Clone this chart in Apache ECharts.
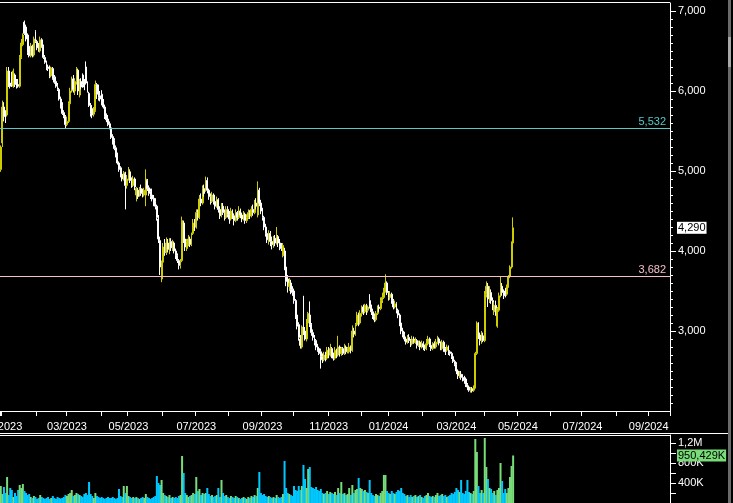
<!DOCTYPE html>
<html>
<head>
<meta charset="utf-8">
<script src="https://cdn.jsdelivr.net/npm/echarts@6/dist/echarts.min.js"></script>
<style>
html,body{margin:0;padding:0;background:#000;}
#chart{width:733px;height:503px;}
</style>
</head>
<body>
<div id="chart"></div>
<script>
// Month labels and number of trading-day slots in each month on the axis
const monthLabels = ['12/2022','01/2023','02/2023','03/2023','04/2023','05/2023','06/2023','07/2023','08/2023','09/2023','10/2023','11/2023','12/2023','01/2024','02/2024','03/2024','04/2024','05/2024','06/2024','07/2024','08/2024','09/2024'];
const monthDays = [1,22,19,22,17,22,21,21,21,20,22,21,17,22,21,18,21,21,20,22,20,14];

// Daily candles: [open, close, low, high]
const ohlc = [
[5020,5300,4990,5320],[5350,5800,5300,5880],[5800,5680,5620,5860],[5700,5650,5600,5760],[5700,6250,5680,6300],
[6250,6100,6050,6300],[6100,6060,6030,6200],[6200,6080,6050,6240],[6060,6250,6040,6280],[6200,6080,6050,6220],
[6120,6060,6030,6150],[6080,6060,6040,6150],[6060,6420,6040,6450],[6420,6600,6400,6650],[6580,6700,6560,6720],
[6860,6720,6700,6880],[6800,6650,6620,6830],[6700,6480,6450,6720],[6560,6440,6420,6600],[6440,6560,6420,6600],
[6560,6450,6420,6580],[6450,6650,6430,6680],[6740,6620,6600,6760],[6620,6540,6510,6640],[6560,6520,6490,6600],
[6500,6640,6480,6680],[6640,6560,6540,6660],[6560,6420,6400,6580],[6420,6360,6340,6450],[6360,6290,6260,6380],
[6300,6280,6250,6330],[6300,6180,6160,6320],[6190,6290,6170,6300],[6280,6160,6140,6300],[6170,6110,6090,6200],
[6120,6060,6040,6180],[6070,6020,6000,6100],[6020,5900,5880,6040],[5900,5800,5780,5930],[5820,5720,5700,5860],
[5730,5680,5660,5760],[5680,5580,5530,5700],[5580,5620,5560,5680],[5620,5840,5600,5870],[5840,6000,5800,6040],
[6000,6150,5980,6180],[6150,6020,5980,6200],[6000,6120,5950,6160],[6120,6280,6080,6300],[6260,6000,5950,6280],
[5950,6120,5920,6150],[6120,6050,6020,6160],[6200,6080,6040,6220],[6100,6050,6010,6150],[6300,6100,6080,6370],
[6100,6000,5980,6120],[5970,5820,5800,5990],[5820,5720,5680,5850],[5780,5700,5660,5820],[5710,5760,5680,5800],
[5760,6080,5740,6130],[6080,5960,5900,6100],[6050,5920,5880,6080],[5940,5900,5870,6000],[5960,5850,5820,6010],
[5860,5800,5780,5900],[5800,5680,5650,5830],[5700,5640,5610,5720],[5650,5580,5560,5700],[5590,5540,5520,5620],
[5540,5420,5400,5560],[5430,5350,5330,5460],[5380,5280,5260,5410],[5290,5200,5170,5320],[5200,5100,5080,5230],
[5100,5020,4990,5120],[5040,4950,4920,5060],[4960,4900,4870,4990],[4900,4980,4880,5000],[4960,4820,4520,4990],
[4820,4900,4780,4950],[4900,5000,4880,5050],[4990,4880,4850,5020],[4880,4820,4790,4920],[4820,4900,4800,4940],
[4900,4800,4760,4920],[4700,4780,4620,4800],[4760,4680,4650,4790],[4700,4760,4680,4800],[4780,4720,4690,4830],
[4730,4700,4670,4780],[4700,4760,4680,4790],[4700,4900,4560,5020],[4880,4780,4750,4900],[4790,4720,4690,4820],
[4740,4680,4650,4780],[4700,4650,4620,4780],[4660,4600,4560,4700],[4620,4560,4520,4660],[4560,4420,4380,4580],
[4400,4150,4100,4450],[4130,3800,3700,4180],[3650,3860,3610,3880],[3860,4050,3840,4100],[4050,3980,3940,4150],
[3980,4100,3950,4170],[4100,4020,3980,4150],[4000,4120,3960,4160],[4120,4040,4000,4160],[4040,4100,4000,4140],
[4100,4000,3970,4120],[4000,3940,3900,4030],[3940,3880,3850,3970],[3880,3820,3770,3900],[3820,3870,3780,3900],
[3880,4380,3860,4430],[4350,4150,4100,4380],[4150,4050,4000,4180],[4030,4120,4000,4150],[4100,4150,4060,4200],
[4150,4080,4050,4180],[4080,4200,4060,4230],[4220,4350,4200,4400],[4350,4300,4250,4400],[4300,4480,4280,4520],
[4480,4420,4380,4520],[4420,4650,4400,4700],[4650,4600,4560,4720],[4600,4780,4580,4820],[4780,4720,4680,4830],
[4760,4880,4740,4930],[4880,4760,4720,4920],[4760,4680,4640,4780],[4680,4620,4580,4720],[4620,4700,4600,4740],
[4700,4620,4580,4720],[4620,4560,4520,4660],[4560,4640,4540,4680],[4640,4520,4480,4660],[4520,4440,4400,4560],
[4440,4560,4420,4600],[4560,4480,4450,4600],[4480,4420,4380,4520],[4420,4520,4400,4560],[4520,4460,4420,4560],
[4460,4400,4340,4500],[4400,4500,4380,4540],[4500,4440,4400,4520],[4440,4380,4320,4470],[4380,4480,4360,4520],
[4480,4420,4380,4500],[4420,4500,4400,4560],[4500,4450,4410,4530],[4450,4400,4360,4480],[4400,4460,4380,4500],
[4460,4380,4340,4480],[4380,4420,4350,4460],[4420,4480,4400,4520],[4480,4440,4400,4510],[4440,4520,4420,4560],
[4520,4480,4440,4580],[4480,4600,4460,4640],[4600,4560,4520,4660],[4450,4760,4420,4870],[4760,4600,4560,4790],
[4600,4500,4460,4640],[4500,4420,4380,4540],[4420,4300,4260,4440],[4300,4220,4180,4340],[4220,4140,4100,4260],
[4140,4220,4080,4260],[4220,4120,4060,4250],[4120,4080,4020,4180],[4080,4160,4040,4190],[4160,4100,4060,4200],
[4100,4180,4080,4300],[4180,4100,4050,4200],[4100,4060,4010,4150],[4060,4030,4000,4100],[3940,4070,3920,4100],
[4000,3800,3760,4040],[3800,3620,3560,3830],[3650,3560,3480,3700],[3560,3600,3500,3660],[3600,3520,3460,3640],
[3520,3480,3440,3560],[3500,3380,3340,3530],[3380,3200,3150,3400],[3200,3060,3020,3220],[3080,2920,2880,3110],
[2900,2820,2780,2950],[2800,3050,2780,3070],[3300,3000,2950,3440],[3000,2900,2880,3050],[2900,3100,2870,3150],
[3100,3220,3050,3240],[3200,3080,3050,3370],[3080,2980,2940,3100],[2980,2920,2880,3020],[2920,2860,2820,2950],
[2880,2800,2760,2900],[2800,2760,2740,2840],[2780,2720,2700,2800],[2740,2680,2530,2780],[2680,2640,2600,2720],
[2640,2700,2620,2740],[2700,2660,2620,2740],[2660,2760,2640,2800],[2760,2700,2660,2800],[2700,2780,2680,2840],
[2780,2700,2660,2800],[2700,2660,2630,2730],[2660,2760,2640,2800],[2760,2700,2660,2780],[2700,2800,2680,2940],
[2800,2720,2680,2820],[2720,2780,2690,2800],[2780,2720,2700,2800],[2720,2800,2700,2840],[2800,2740,2710,2820],
[2740,2780,2720,2800],[2740,2800,2720,2850],[2800,2760,2720,2820],[2760,3000,2740,3070],[3000,2960,2920,3040],
[2960,3080,2940,3100],[3080,3200,3060,3240],[3200,3100,3060,3230],[3100,3220,3080,3260],[3220,3300,3180,3320],
[3300,3240,3200,3330],[3240,3320,3220,3340],[3320,3260,3200,3340],[3260,3300,3230,3320],[3380,3300,3280,3460],
[3300,3240,3200,3330],[3240,3180,3150,3280],[3180,3140,3110,3220],[3140,3220,3120,3250],[3220,3300,3200,3320],
[3300,3280,3240,3330],[3280,3380,3260,3420],[3380,3420,3350,3480],[3420,3500,3400,3540],[3500,3600,3480,3710],
[3600,3480,3450,3620],[3480,3420,3380,3500],[3420,3460,3390,3500],[3460,3380,3340,3480],[3380,3300,3270,3400],
[3300,3340,3280,3380],[3340,3260,3220,3360],[3260,3200,3160,3280],[3200,3100,3060,3220],[3100,3000,2960,3120],
[3000,2960,2920,3040],[2960,2900,2870,2990],[2900,2860,2830,2930],[2860,2920,2840,2950],[2920,2880,2850,2960],
[2880,2840,2800,2900],[2840,2900,2820,2940],[2900,2860,2840,2930],[2860,2880,2840,2920],[2880,2820,2780,2900],
[2820,2860,2800,2880],[2860,2800,2760,2880],[2800,2840,2780,2880],[2840,2800,2760,2870],[2800,2780,2750,2830],
[2780,2840,2760,2900],[2840,2900,2820,2940],[2900,2820,2800,2920],[2820,2780,2750,2850],[2780,2840,2760,2860],
[2840,2800,2780,2870],[2800,2860,2780,2900],[2860,2900,2840,2940],[2900,2850,2820,2920],[2850,2800,2760,2870],
[2780,2860,2760,2890],[2860,2780,2740,2880],[2780,2740,2700,2800],[2760,2800,2740,2830],[2800,2740,2700,2820],
[2740,2720,2690,2760],[2720,2680,2650,2740],[2680,2620,2600,2700],[2620,2580,2560,2640],[2580,2500,2460,2610],
[2500,2440,2400,2520],[2440,2460,2410,2500],[2460,2420,2390,2500],[2420,2400,2370,2460],[2400,2380,2340,2440],
[2400,2330,2300,2420],[2330,2300,2260,2350],[2300,2260,2240,2320],[2260,2280,2230,2300],[2280,2250,2230,2300],
[2260,2300,2240,2320],[2300,2720,2280,2740],[2720,3100,2700,3120],[3100,2950,2900,3110],[2950,2880,2820,2980],
[2880,2960,2840,3000],[2940,2880,2860,2980],[2880,3460,2860,3500],[3460,3560,3420,3620],[3560,3400,3300,3600],
[3400,3460,3350,3560],[3480,3380,3340,3520],[3380,3300,3260,3420],[3240,3320,3200,3360],[3320,3260,3190,3380],
[3060,3280,3040,3300],[3260,3440,3240,3480],[3440,3540,3420,3680],[3560,3480,3440,3600],[3480,3440,3400,3520],
[3500,3460,3420,3540],[3460,3560,3440,3580],[3560,3680,3540,3700],[3680,3800,3660,3820],[3800,4100,3780,4120],
[4100,4290,4060,4420]
];

// Daily volume in K
const volumeK = [
340,180,320,200,520,160,300,260,120,200,
140,260,360,300,380,240,200,160,180,120,
100,140,120,80,100,160,120,100,80,100,
120,80,100,140,100,80,120,100,90,100,
120,160,140,180,200,260,140,160,200,180,
160,140,120,180,200,160,420,180,140,100,
200,140,120,100,120,100,80,100,120,100,
100,120,100,80,100,280,140,120,340,200,
340,140,120,100,120,100,120,100,80,100,
120,100,180,120,100,80,100,120,140,540,
400,360,460,200,160,140,120,160,100,120,
100,120,100,140,160,940,600,200,160,120,
140,160,200,180,520,240,280,160,200,180,
200,300,180,140,160,120,140,160,300,120,
460,200,140,160,120,100,140,120,100,140,
120,100,80,100,120,100,80,120,100,140,
120,160,140,300,620,200,160,180,140,120,
140,120,100,120,100,160,120,100,120,180,
840,300,200,180,160,140,340,260,240,340,
260,340,760,480,300,680,720,320,300,280,
320,260,240,280,200,180,200,240,180,220,
200,180,220,160,300,200,420,180,200,160,
180,300,160,360,200,260,280,500,300,280,
240,260,220,200,460,200,160,140,180,160,
140,200,240,560,560,240,200,180,240,200,
180,220,260,240,300,200,180,140,160,120,
160,120,140,160,120,140,160,120,100,140,
160,200,140,120,140,120,160,200,140,160,
180,140,160,120,140,160,200,180,220,300,
260,220,460,200,180,240,460,220,200,180,
240,1280,1020,340,200,260,200,1300,720,480,
300,280,200,240,160,260,300,800,440,200,
280,200,300,520,740,950.429
];

// Reference price levels and tick labels
const levels = [5532, 3682];
const priceTicks = [3000, 4000, 5000, 6000, 7000];
const volTicks = [400, 800, 1200];

const categories = [];
monthLabels.forEach((m, k) => { for (let d = 1; d <= monthDays[k]; d++) categories.push(m + '|' + d); });

const minorPriceTicks = [];
for (let v = 2100; v <= 7000; v += 100) minorPriceTicks.push(v);
const volTickVals = [];
for (let v = 0; v <= 1200; v += 200) volTickVals.push(v);

const UP = '#cccc00', DOWN = '#ffffff';
const VUP = '#78dc78', VDOWN = '#00c8ff';
const FONT = 'Arial, "Liberation Sans", sans-serif';
const NONE = 'rgba(0,0,0,0)';

const volData = volumeK.map((v, i) => ({
  value: v,
  itemStyle: { color: ohlc[i][1] >= ohlc[i][0] ? VUP : VDOWN }
}));

const lastClose = ohlc[ohlc.length - 1][1];
const lastVol = volumeK[volumeK.length - 1];
const fmtPrice = v => v.toLocaleString('en-US');

const chart = echarts.init(document.getElementById('chart'), null, { renderer: 'canvas' });
chart.setOption({
  backgroundColor: '#000',
  animation: false,
  grid: [
    { left: 0, right: 63, top: 3, height: 408, containLabel: false, outerBoundsMode: 'none' },
    { left: 0, right: 63, top: 435, height: 68, containLabel: false, outerBoundsMode: 'none' }
  ],
  xAxis: [
    {
      type: 'category', gridIndex: 0, data: categories, boundaryGap: true,
      axisLine: { lineStyle: { color: '#fff', width: 1 } },
      axisTick: { show: true, length: 5, lineStyle: { color: '#fff' },
        interval: (i, v) => v.endsWith('|1') },
      axisLabel: { color: '#fff', fontSize: 11, fontFamily: FONT, margin: 10, hideOverlap: false,
        interval: (i, v) => v.endsWith('|1') && parseInt(v.slice(0, 2), 10) % 2 === 1,
        formatter: v => v.split('|')[0] },
      splitLine: { show: false }
    },
    {
      type: 'category', gridIndex: 1, data: categories, boundaryGap: true,
      axisLine: { show: false }, axisTick: { show: false }, axisLabel: { show: false },
      splitLine: { show: false }
    }
  ],
  yAxis: [
    {
      type: 'value', gridIndex: 0, position: 'right', min: 2000, max: 7100, scale: true,
      axisLine: { show: true, lineStyle: { color: '#fff' } },
      axisTick: { show: true, length: 6, lineStyle: { color: '#fff' }, customValues: priceTicks },
      axisLabel: { show: true, color: '#fff', fontSize: 11, fontFamily: FONT, margin: 8,
        customValues: priceTicks, formatter: v => fmtPrice(v) },
      splitLine: { show: false }
    },
    {
      type: 'value', gridIndex: 0, position: 'right', min: 2000, max: 7100, scale: true,
      axisLine: { show: false },
      axisTick: { show: true, length: 3, lineStyle: { color: '#fff' }, customValues: minorPriceTicks },
      axisLabel: { show: false },
      splitLine: { show: false }
    },
    {
      type: 'value', gridIndex: 1, position: 'right', min: 0, max: 1360,
      axisLine: { show: true, lineStyle: { color: '#fff' } },
      axisTick: { show: true, length: 6, lineStyle: { color: '#fff' }, customValues: volTickVals },
      axisLabel: { show: true, color: '#fff', fontSize: 11, fontFamily: FONT, margin: 8,
        customValues: volTicks,
        formatter: v => v >= 1000 ? String(v / 1000).replace('.', ',') + 'M' : v + 'K' },
      splitLine: { show: false }
    }
  ],
  series: [
    {
      type: 'candlestick', xAxisIndex: 0, yAxisIndex: 0, data: ohlc,
      barWidth: 1.4,
      itemStyle: { color: UP, color0: DOWN, borderColor: UP, borderColor0: DOWN, borderWidth: 1 },
      markLine: {
        symbol: ['none', 'none'], silent: true, animation: false, z: 10,
        data: [
          { yAxis: levels[0], lineStyle: { color: '#5ac8c8', type: 'solid', width: 1 },
            label: { show: true, position: 'insideEndTop', distance: [4, 1], color: '#5ac8c8',
              fontSize: 11, fontFamily: FONT, formatter: () => fmtPrice(levels[0]) } },
          { yAxis: levels[1], lineStyle: { color: '#f2c0c8', type: 'solid', width: 1 },
            label: { show: true, position: 'insideEndTop', distance: [4, 1], color: '#f2c0c8',
              fontSize: 11, fontFamily: FONT, formatter: () => fmtPrice(levels[1]) } },
          { yAxis: lastClose, lineStyle: { color: NONE, width: 1, type: 'solid' },
            label: { show: true, position: 'end', distance: 7, color: '#000', backgroundColor: '#fff',
              padding: [1, 1, 0, 1], fontSize: 11, fontFamily: FONT, formatter: () => fmtPrice(lastClose) } }
        ]
      }
    },
    {
      type: 'bar', xAxisIndex: 1, yAxisIndex: 2, data: volData, barWidth: 2,
      markLine: {
        symbol: ['none', 'none'], silent: true, animation: false, z: 10,
        data: [
          { yAxis: lastVol, lineStyle: { color: NONE, width: 1, type: 'solid' },
            label: { show: true, position: 'end', distance: 7, color: '#000', backgroundColor: VUP,
              padding: [1, 1, 0, 1], fontSize: 11, fontFamily: FONT,
              formatter: () => lastVol.toFixed(3).replace('.', ',') + 'K' } }
        ]
      }
    }
  ],
  graphic: [
    { type: 'line', shape: { x1: 0, y1: 2.5, x2: 670, y2: 2.5 }, style: { stroke: '#fff', lineWidth: 1 }, silent: true },
    { type: 'line', shape: { x1: 0, y1: 433.5, x2: 728, y2: 433.5 }, style: { stroke: '#fff', lineWidth: 1 }, silent: true },
    { type: 'line', shape: { x1: 0, y1: 435.5, x2: 670, y2: 435.5 }, style: { stroke: '#fff', lineWidth: 1 }, silent: true },
    { type: 'rect', shape: { x: 728, y: 0, width: 3, height: 503 }, style: { fill: '#6a6a6a' }, silent: true },
    { type: 'rect', shape: { x: 728, y: 37, width: 3, height: 30 }, style: { fill: '#a8a8a8' }, silent: true }
  ]
});
</script>
</body>
</html>
